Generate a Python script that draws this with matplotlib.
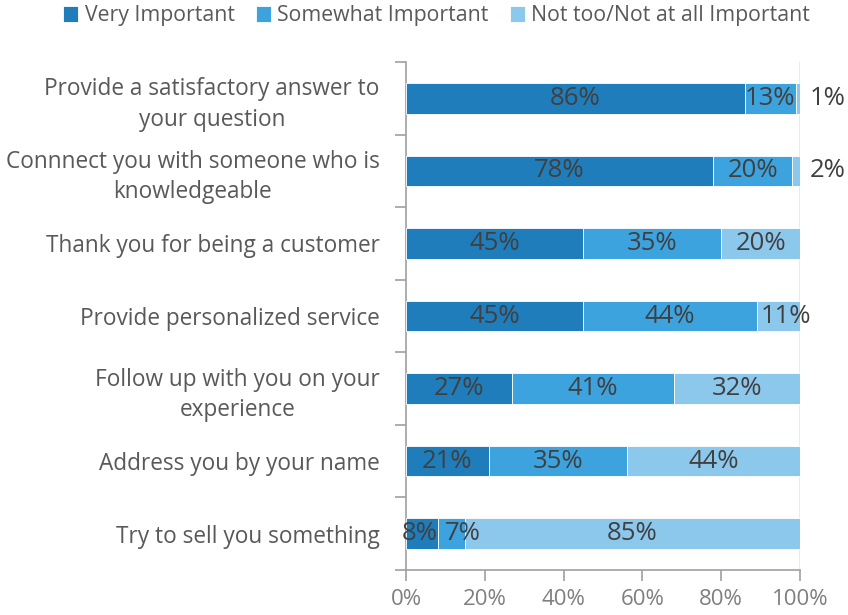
import matplotlib.pyplot as plt
import numpy as np

plt.rcParams['font.family'] = ['Open Sans', 'DejaVu Sans']

CATEGORIES = [
    "Provide a satisfactory answer to\nyour question",
    "Connnect you with someone who is\nknowledgeable",
    "Thank you for being a customer",
    "Provide personalized service",
    "Follow up with you on your\nexperience",
    "Address you by your name",
    "Try to sell you something",
]
VERY = [86, 78, 45, 45, 27, 21, 8]
SOMEWHAT = [13, 20, 35, 44, 41, 35, 7]
NOT_TOO = [1, 2, 20, 11, 32, 44, 85]
SERIES_NAMES = ["Very Important", "Somewhat Important", "Not too/Not at all Important"]
COLORS = ["#1f7dbb", "#3ca3df", "#8cc7ec"]

TEXT = "#404040"
AXIS = "#a0a0a0"

fig = plt.figure(figsize=(8.48, 6.15), dpi=100)
ax = fig.add_axes([406 / 848, 45 / 615, 394 / 848, 508 / 615])

y = np.arange(len(CATEGORIES))
h = 0.42
left = np.zeros(len(CATEGORIES))
for vals, color, name in zip([VERY, SOMEWHAT, NOT_TOO], COLORS, SERIES_NAMES):
    vals = np.array(vals, dtype=float)
    ax.barh(y, vals, left=left, height=h, color=color, label=name,
            edgecolor="white", linewidth=0.6, zorder=3)
    for i, v in enumerate(vals):
        cx, cy, ha = left[i] + v / 2, y[i], "center"
        if v <= 2:
            # tiny slices get their label past the bar end
            cx, ha = 102.5, "left"
        elif v == 11:
            cx = left[i] + v / 2 + 2
        elif v == 8 and i == 6:
            cx = left[i] + v / 2 - 0.5
        elif v == 7 and i == 6:
            cx = left[i] + v / 2 + 3
        ax.text(cx, cy, f"{int(v)}%", ha=ha, va="center", fontsize=18.5,
                color=TEXT, zorder=4)
    left += vals

ax.set_xlim(0, 100)
ax.set_ylim(len(CATEGORIES) - 0.5, -0.5)
ax.set_xticks(range(0, 101, 20))
ax.set_xticklabels([f"{t}%" for t in range(0, 101, 20)], fontsize=16, color="#7f7f7f")
ax.set_yticks(y)
ax.set_yticklabels(CATEGORIES, fontsize=16.3, color="#595959", linespacing=1.35,
                   multialignment="center")
ax.set_yticks(np.arange(-0.5, len(CATEGORIES)), minor=True)
ax.tick_params(axis="y", which="major", length=0, pad=19)
ax.tick_params(axis="y", which="minor", length=8, width=1.2, color=AXIS)
ax.tick_params(axis="x", length=8, width=1.2, color=AXIS, pad=6)

for side in ["top", "right"]:
    ax.spines[side].set_visible(False)
ax.spines["left"].set_color(AXIS)
ax.spines["left"].set_linewidth(1.2)
ax.spines["bottom"].set_color(AXIS)
ax.spines["bottom"].set_linewidth(1.2)
ax.axvline(100, color="#e6e6e6", linewidth=1.2, zorder=1)

handles, labels = ax.get_legend_handles_labels()
fig.legend(handles, labels, loc="upper center", bbox_to_anchor=(0.515, 1.012),
           ncol=3, frameon=False, fontsize=15.3, labelcolor="#595959",
           handlelength=0.7, handleheight=0.8, handletextpad=0.3,
           columnspacing=1.0, borderaxespad=0.2)

fig.savefig("out.png", dpi=100)
